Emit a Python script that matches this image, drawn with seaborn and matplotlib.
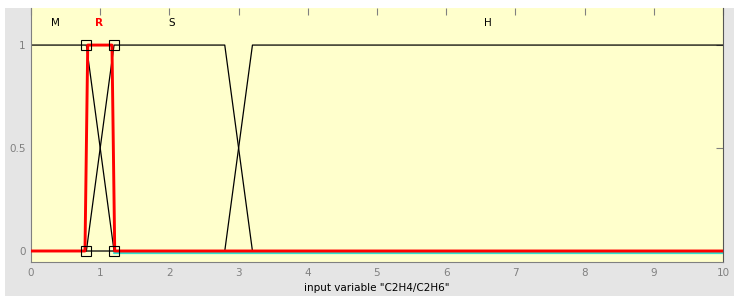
import numpy as np
import pandas as pd
import seaborn as sns
import matplotlib.pyplot as plt
from matplotlib.patches import Rectangle

# membership function parameters (trapezoids a, b, c, d) for input "C2H4/C2H6"
X_RANGE = [0, 10]
MF_NAMES = ["M", "R", "S", "H"]
M_PARAMS = [0.0, 0.0, 0.8, 1.2]
R_PARAMS = [0.78, 0.82, 1.17, 1.21]
S_PARAMS = [0.8, 1.2, 2.8, 3.2]
H_PARAMS = [2.8, 3.2, 10.0, 10.0]
LABEL_X = [0.36, 0.98, 2.03, 6.6]
HANDLE_X = [0.8, 0.8, 1.2, 1.2]
HANDLE_Y = [0.0, 1.0, 1.0, 0.0]
X_TICKS = list(range(0, 11))
Y_TICKS = [0, 0.5, 1]

BG = "#e5e5e5"
PANEL = "#ffffcc"
TICK_GRAY = "#808080"


def trap_points(params):
    a, b, c, d = params
    xs, ys = [], []
    # left side
    if a == b:
        xs += [a]
        ys += [1.0]
        if a > X_RANGE[0]:
            xs = [X_RANGE[0], a] + xs
            ys = [0.0, 0.0] + ys
    else:
        xs += [X_RANGE[0], a, b]
        ys += [0.0, 0.0, 1.0]
    # right side
    if c == d:
        xs += [c]
        ys += [1.0]
        if c < X_RANGE[1]:
            xs += [c, X_RANGE[1]]
            ys += [0.0, 0.0]
    else:
        xs += [c, d, X_RANGE[1]]
        ys += [1.0, 0.0, 0.0]
    return pd.DataFrame({"x": xs, "y": ys})


sns.set_style("white")
plt.rcParams["font.family"] = ["DejaVu Sans"]

fig = plt.figure(figsize=(7.34, 2.96), dpi=100, facecolor=BG)
fig.patches.append(Rectangle((0, 1 - 8 / 296), 1, 8 / 296, transform=fig.transFigure,
                             facecolor="white", edgecolor="none", zorder=-1))
fig.patches.append(Rectangle((0, 0), 5 / 734, 1, transform=fig.transFigure,
                             facecolor="white", edgecolor="none", zorder=-1))
ax = fig.add_axes([31 / 734, 1 - 262 / 296, (723 - 31) / 734, (262 - 8) / 296])
ax.set_facecolor(PANEL)

# cyan line just under the zero level
cyan = pd.DataFrame({"x": [1.2, X_RANGE[1]], "y": [-0.012, -0.012]})
sns.lineplot(data=cyan, x="x", y="y", color="#33e0d0", linewidth=1.6, ax=ax, sort=False)

for params in [M_PARAMS, S_PARAMS, H_PARAMS]:
    sns.lineplot(data=trap_points(params), x="x", y="y", color="black",
                 linewidth=0.9, ax=ax, sort=False)

sns.lineplot(data=trap_points(R_PARAMS), x="x", y="y", color="#ff0000",
             linewidth=2.1, ax=ax, sort=False, zorder=3)

# edit handles of the selected MF
ax.plot(HANDLE_X, HANDLE_Y, linestyle="none", marker="s", markersize=7,
        markerfacecolor="none", markeredgecolor="black", markeredgewidth=0.8, zorder=4)

for name, lx in zip(MF_NAMES, LABEL_X):
    ax.text(lx, 1.107, name, ha="center", va="center", fontsize=7.5,
            color="#ff0000" if name == "R" else "black",
            fontweight="bold" if name == "R" else "normal")

ax.set_xlim(X_RANGE)
ax.set_ylim(-0.0534, 1.18)
ax.set_xticks(X_TICKS)
ax.set_xticklabels([str(t) for t in X_TICKS])
ax.set_yticks(Y_TICKS)
ax.set_yticklabels(["0", "0.5", "1"])
ax.tick_params(axis="both", direction="in", length=5, width=0.8, color=TICK_GRAY,
               labelcolor=TICK_GRAY, labelsize=7.5, top=True, right=True, pad=4)
for side in ["left", "bottom", "right"]:
    ax.spines[side].set_color(TICK_GRAY)
    ax.spines[side].set_linewidth(0.8)
ax.spines["right"].set_color("#555555")
ax.spines["top"].set_visible(False)

ax.set_xlabel('input variable "C2H4/C2H6"', fontsize=7.5, color="black", labelpad=4)
ax.set_ylabel("")

fig.savefig("out.png", dpi=100, facecolor=fig.get_facecolor())
